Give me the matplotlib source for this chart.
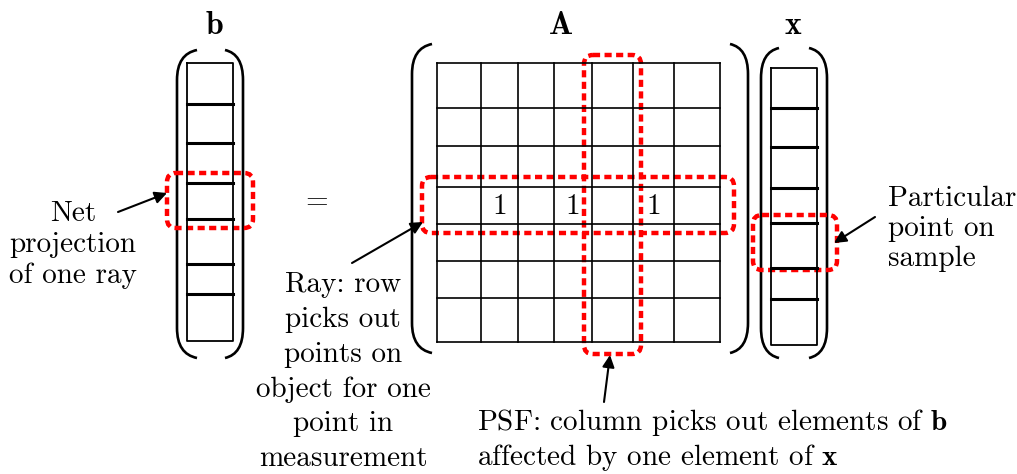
import matplotlib
matplotlib.use("Agg")
import matplotlib.pyplot as plt
from matplotlib.path import Path
from matplotlib.patches import PathPatch, FancyBboxPatch

plt.rcParams['mathtext.fontset'] = 'cm'
plt.rcParams['axes.unicode_minus'] = False

# grid edges (pixel coords)
b_x = [187, 233]
b_rows = [63, 104, 143, 183, 219, 264, 294, 341]
x_x = [771, 817]
x_rows = [68, 108, 147, 188, 223, 268, 299, 345]
A_cols = [437, 481, 518, 554, 592, 633, 674, 720]
A_rows = [63, 108, 146, 187, 224, 261, 298, 342]
ones_row = 3
ones_cols = [1, 3, 5]

labels = ["b", "A", "x"]
label_x = [214, 560, 793]

# (side x, end x, top y, bottom y)
parens = [(177, 197, 50, 358), (243, 225, 50, 358),
          (412, 432, 44, 353), (748, 730, 44, 353),
          (761, 779, 48, 358), (827, 809, 48, 358)]

# red dotted boxes (x0, y0, x1, y1)
boxes = [(167, 173, 253, 228), (422, 177, 734, 233),
         (584, 55, 641, 354), (753, 215, 837, 270)]

fig = plt.figure(figsize=(10.17, 4.74), dpi=100)
ax = fig.add_axes([0, 0, 1, 1])
ax.set_xlim(0, 1017)
ax.set_ylim(474, 0)
ax.axis('off')

FS = 21
TXT = dict(family='cmr10', fontsize=FS, color='black')


def column(xs, rows):
    ax.plot([xs[0], xs[1], xs[1], xs[0], xs[0]],
            [rows[0], rows[0], rows[-1], rows[-1], rows[0]], color='black', lw=1.3)
    for y in rows[1:-1]:
        ax.plot(xs, [y, y], color='black', lw=2.2)


column(b_x, b_rows)
column(x_x, x_rows)

# matrix A
for c in A_cols:
    ax.plot([c, c], [A_rows[0], A_rows[-1]], color='black', lw=1.2)
for r in A_rows:
    ax.plot([A_cols[0], A_cols[-1]], [r, r], color='black', lw=1.2)
for c in ones_cols:
    ax.text((A_cols[c] + A_cols[c + 1]) / 2, (A_rows[ones_row] + A_rows[ones_row + 1]) / 2 + 1,
            "1", ha='center', va='center', **TXT)

# parentheses
for sx, ex, ty, by in parens:
    r = 30
    verts = [(ex, ty), (sx, ty + 4), (sx, ty + r),
             (sx, by - r), (sx, by - 4), (ex, by)]
    codes = [Path.MOVETO, Path.CURVE3, Path.CURVE3,
             Path.LINETO, Path.CURVE3, Path.CURVE3]
    ax.add_patch(PathPatch(Path(verts, codes), fill=False, lw=1.9, color='black'))

# red dotted boxes
for x0, y0, x1, y1 in boxes:
    ax.add_patch(FancyBboxPatch((x0, y0), x1 - x0, y1 - y0,
                                boxstyle="round,pad=0,rounding_size=9",
                                fill=False, ec='#ff0000', lw=3.2,
                                linestyle=(0, (1.6, 1.0))))

# titles
for lab, lx in zip(labels, label_x):
    ax.text(lx, 25, r"$\mathbf{%s}$" % lab, ha='center', va='center', fontsize=FS + 2)

ax.text(317, 202, "=", ha='center', va='center', **TXT)

# annotations
AP = dict(arrowstyle='-|>', color='black', lw=1.5, mutation_scale=18, shrinkA=0, shrinkB=0)
ax.annotate("", xy=(167, 193), xytext=(118, 212), arrowprops=AP)
ax.annotate("", xy=(423, 222), xytext=(352, 263), arrowprops=AP)
ax.annotate("", xy=(610, 355), xytext=(604, 402), arrowprops=AP)
ax.annotate("", xy=(834, 243), xytext=(875, 217), arrowprops=AP)

ax.text(73, 245, "Net\nprojection\nof one ray", ha='center', va='center',
        linespacing=1.24, **TXT)
ax.text(343, 372, "Ray: row\npicks out\npoints on\nobject for one\npoint in\nmeasurement",
        ha='center', va='center', linespacing=1.41, **TXT)
ax.text(888, 229, "Particular\npoint on\nsample", ha='left', va='center',
        linespacing=1.17, **TXT)
ax.text(477, 440, "PSF: column picks out elements of $\\mathbf{b}$\naffected by one element of $\\mathbf{x}$",
        ha='left', va='center', linespacing=1.14, **TXT)

fig.savefig("out.png", dpi=100)
